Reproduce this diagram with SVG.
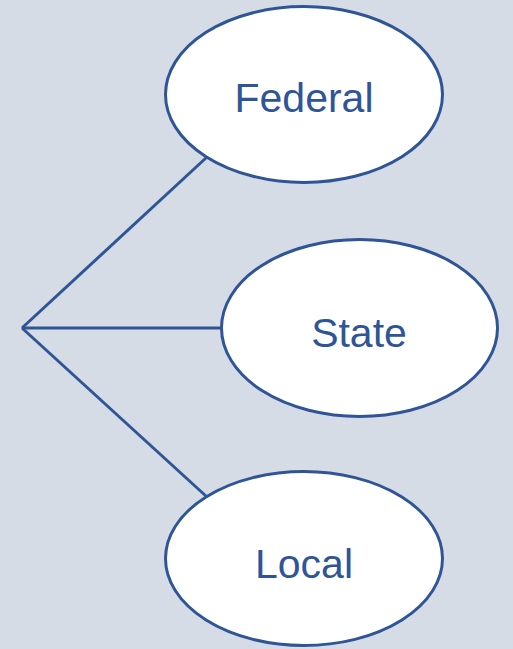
<svg xmlns="http://www.w3.org/2000/svg" width="513" height="649" viewBox="0 0 513 649">
<style>
.node{fill:#ffffff;stroke:#2F5597;stroke-width:3}
.lbl{font-family:"Liberation Sans",Arial,sans-serif;font-size:41px;fill:#2F5597;text-anchor:middle}
.conn{stroke:#2F5597;stroke-width:3;fill:none}
</style>
<rect width="513" height="649" fill="#D6DCE5"/>
<g id="connectors">
<line class="conn" x1="22" y1="328" x2="207" y2="157"/>
<line class="conn" x1="22" y1="328" x2="221" y2="328"/>
<line class="conn" x1="22" y1="328" x2="207" y2="497"/>
</g>
<g id="federal">
<ellipse class="node" cx="304" cy="94.5" rx="138.5" ry="88"/>
<text class="lbl" x="304" y="112">Federal</text>
</g>
<g id="state">
<ellipse class="node" cx="359.5" cy="328" rx="138" ry="88.5"/>
<text class="lbl" x="359" y="347">State</text>
</g>
<g id="local">
<ellipse class="node" cx="304" cy="558.5" rx="138.5" ry="87"/>
<text class="lbl" x="304" y="578">Local</text>
</g>
</svg>
